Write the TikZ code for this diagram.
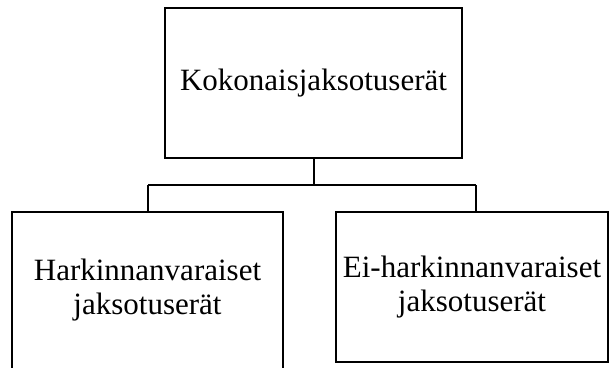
\documentclass[tikz,border=0pt]{standalone}
\usepackage{fontspec}
\setmainfont{Liberation Serif}
\begin{document}
\begin{tikzpicture}[x=1pt,y=-1pt,
  box/.style={draw=black, line width=2pt, rectangle, inner sep=0pt, align=center,
    font=\fontsize{31}{34}\selectfont},
  label/.style={inner sep=0pt, align=center, font=\fontsize{31}{34}\selectfont},
  link/.style={draw=black, line width=2pt}]
\useasboundingbox (0,0) rectangle (612,367);
\node[box, minimum width=297pt, minimum height=150pt] (top) at (313.5,83) {Kokonaisjaksotuserät};
\node[box, minimum width=271pt, minimum height=162pt] (left) at (147.5,293) {};
\node[label] (lefttext) at (147.5,290) {Harkinnanvaraiset\\jaksotuserät};
\node[box, minimum width=272pt, minimum height=150pt] (right) at (472,287) {Ei-harkinnanvaraiset\\jaksotuserät};
\coordinate (j) at (313.5,185);
\coordinate (jl) at (148,185);
\coordinate (jr) at (476,185);
\draw[link] (top.south) -- (j);
\draw[link] (jl) -- (jr);
\draw[link] (jl) -- (jl |- left.north);
\draw[link] (jr) -- (jr |- right.north);
\end{tikzpicture}
\end{document}
